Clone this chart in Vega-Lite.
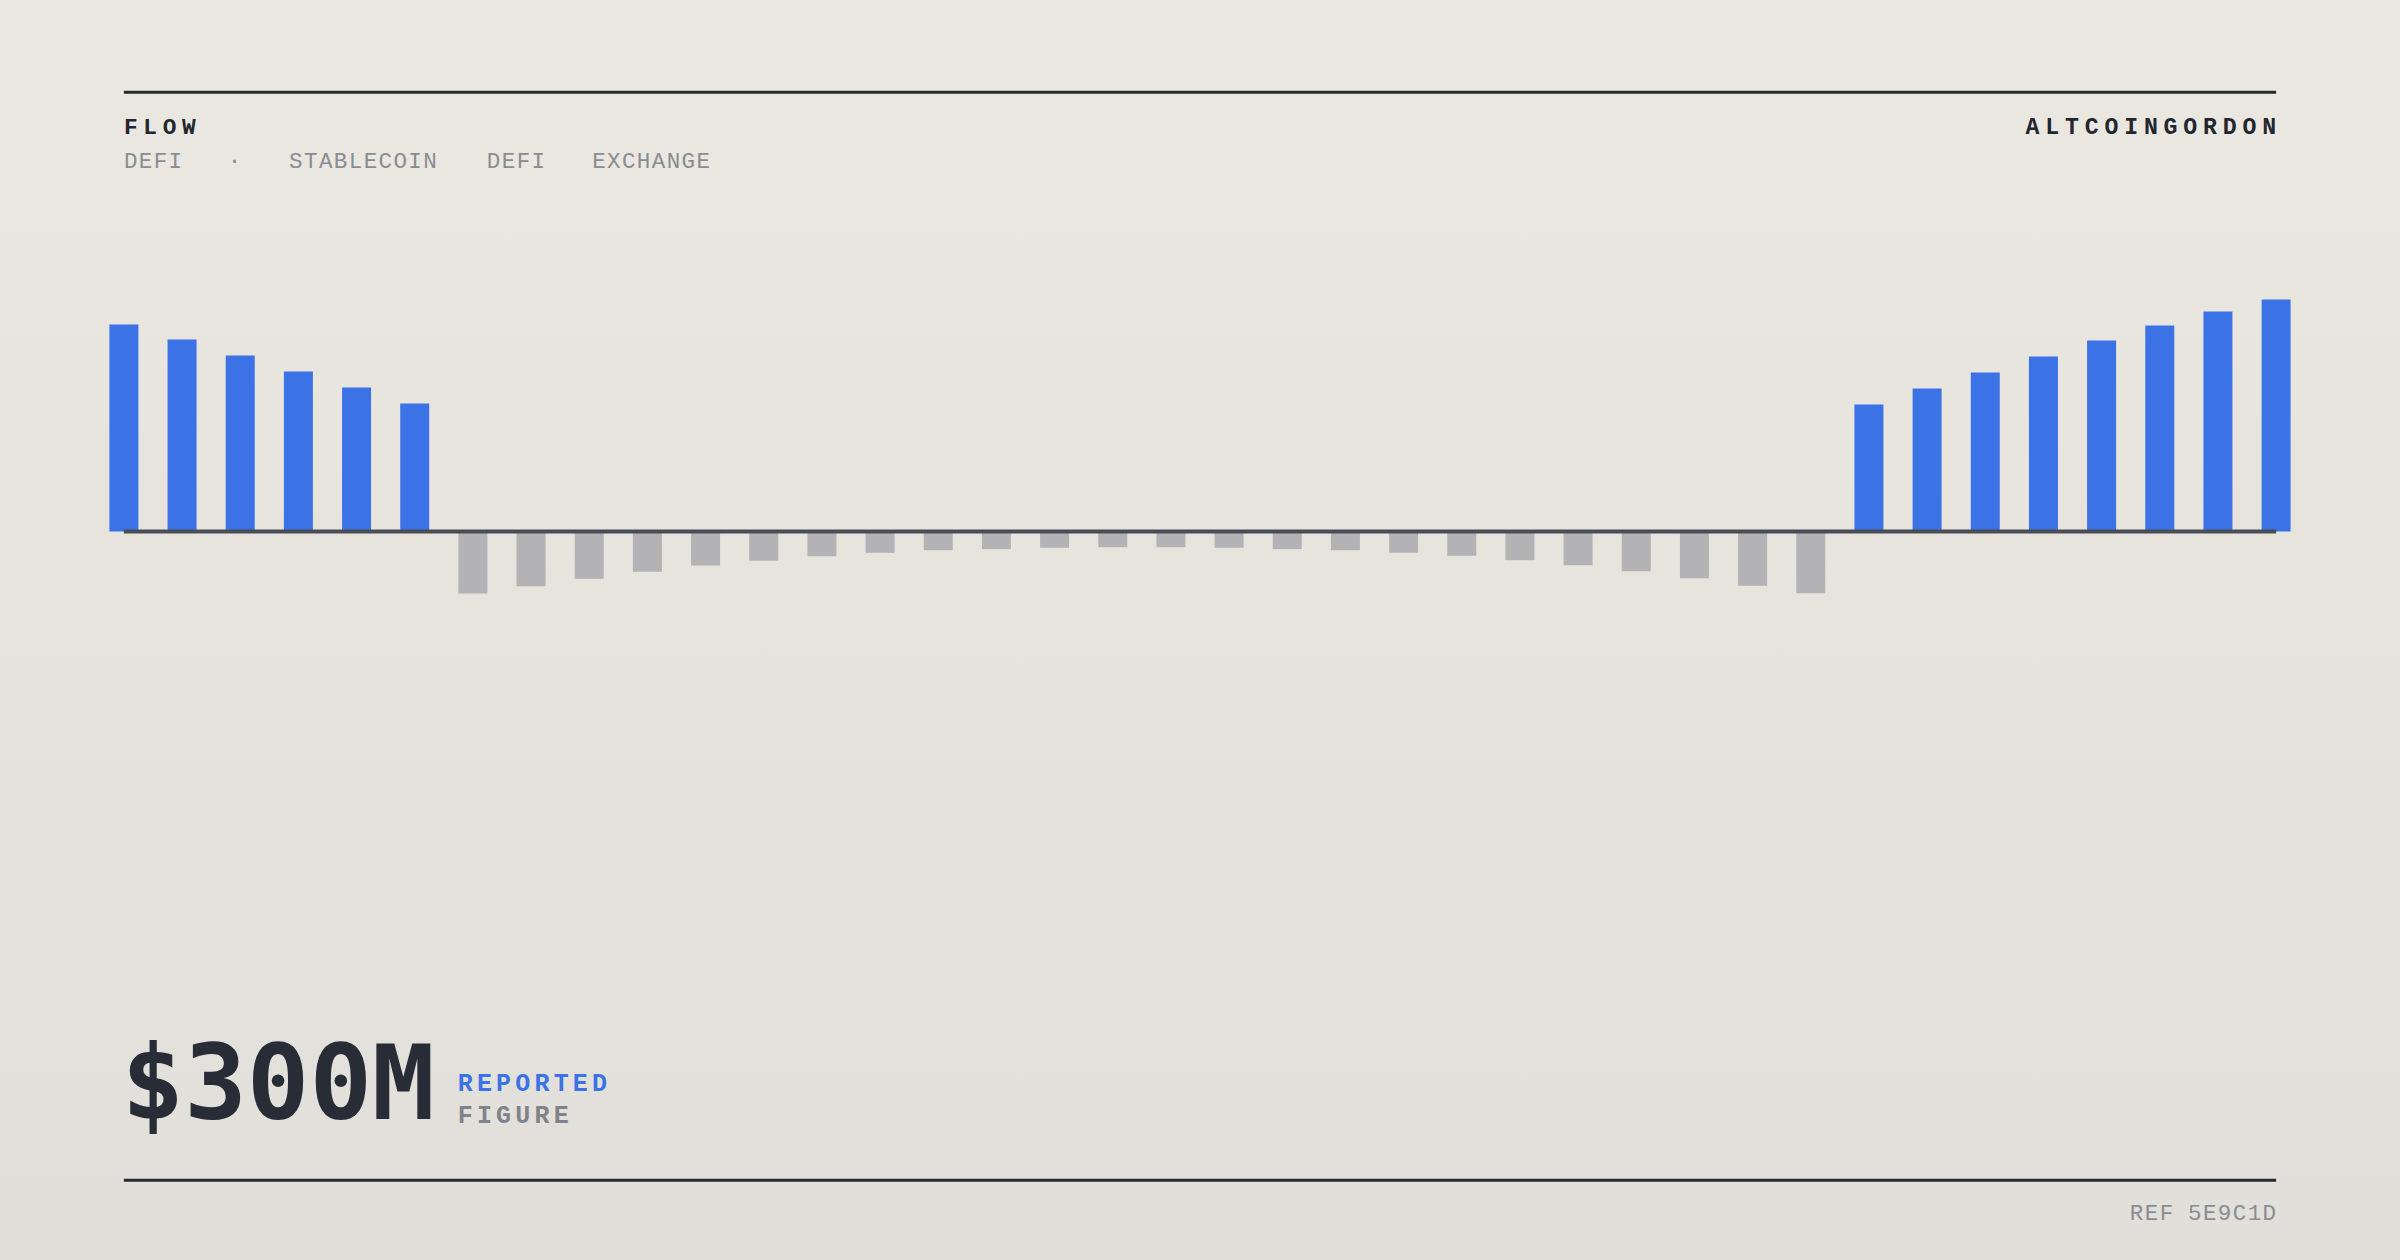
{
  "$schema": "https://vega.github.io/schema/vega-lite/v6.json",
  "width": 2400,
  "height": 1260,
  "autosize": {"type": "fit", "contains": "padding"},
  "padding": 0,
  "background": "#e6e3dd",
  "config": {"view": {"stroke": null}, "font": "DejaVu Sans Mono"},
  "datasets": {
    "flow": [
      {"i": 0, "v": 207}, {"i": 1, "v": 192}, {"i": 2, "v": 176}, {"i": 3, "v": 160},
      {"i": 4, "v": 144}, {"i": 5, "v": 128}, {"i": 6, "v": -62}, {"i": 7, "v": -54.7},
      {"i": 8, "v": -47.3}, {"i": 9, "v": -40.3}, {"i": 10, "v": -34}, {"i": 11, "v": -29.3},
      {"i": 12, "v": -24.7}, {"i": 13, "v": -21.3}, {"i": 14, "v": -18.7}, {"i": 15, "v": -17.7},
      {"i": 16, "v": -16.3}, {"i": 17, "v": -15.7}, {"i": 18, "v": -15.7}, {"i": 19, "v": -16.3},
      {"i": 20, "v": -17.7}, {"i": 21, "v": -18.7}, {"i": 22, "v": -21.3}, {"i": 23, "v": -24.3},
      {"i": 24, "v": -28.7}, {"i": 25, "v": -33.7}, {"i": 26, "v": -39.7}, {"i": 27, "v": -46.7},
      {"i": 28, "v": -54.3}, {"i": 29, "v": -61.7}, {"i": 30, "v": 127}, {"i": 31, "v": 143},
      {"i": 32, "v": 159}, {"i": 33, "v": 175}, {"i": 34, "v": 191}, {"i": 35, "v": 206},
      {"i": 36, "v": 220}, {"i": 37, "v": 232}
    ]
  },
  "data": {"name": "flow"},
  "layer": [
    {
      "data": {"values": [{"k": 1}]},
      "mark": {"type": "rect", "fill": {"gradient": "linear", "x1": 0, "y1": 0, "x2": 0, "y2": 1, "stops": [{"offset": 0, "color": "#ebe8e1"}, {"offset": 1, "color": "#e1dfd9"}]}},
      "encoding": {
        "x": {"datum": -2.13, "type": "quantitative", "scale": {"domain": [-2.13, 39.13], "nice": false, "zero": false, "padding": 0}, "axis": null},
        "x2": {"datum": 39.13},
        "y": {"datum": 531.5, "type": "quantitative", "scale": {"domain": [-728.5, 531.5], "nice": false, "zero": false, "padding": 0}, "axis": null},
        "y2": {"datum": -728.5}
      }
    },
    {
      "mark": {"type": "bar", "orient": "vertical", "width": 29},
      "encoding": {
        "x": {"field": "i", "type": "quantitative", "scale": {"domain": [-2.13, 39.13], "nice": false, "zero": false, "padding": 0}, "axis": null},
        "y": {"field": "v", "type": "quantitative", "scale": {"domain": [-728.5, 531.5], "nice": false, "zero": false, "padding": 0}, "axis": null},
        "y2": {"datum": 0},
        "color": {"condition": {"test": "datum.v > 0", "value": "#3b73e6"}, "value": "#b3b3b5"}
      }
    },
    {
      "data": {"values": [{"k": 1}]},
      "mark": {"type": "rule", "color": "#4a4d55", "strokeWidth": 4},
      "encoding": {
        "x": {"datum": 0, "type": "quantitative", "axis": null},
        "x2": {"datum": 37},
        "y": {"datum": 0, "type": "quantitative", "axis": null}
      }
    },
    {
      "data": {"values": [{"k": 1}]},
      "mark": {"type": "rule", "color": "#262a33", "strokeWidth": 3},
      "encoding": {
        "x": {"datum": 0, "type": "quantitative", "axis": null},
        "x2": {"datum": 37},
        "y": {"datum": 439.2, "type": "quantitative", "axis": null}
      }
    },
    {
      "data": {"values": [{"k": 1}]},
      "mark": {"type": "rule", "color": "#262a33", "strokeWidth": 3},
      "encoding": {
        "x": {"datum": 0, "type": "quantitative", "axis": null},
        "x2": {"datum": 37},
        "y": {"datum": -648.8, "type": "quantitative", "axis": null}
      }
    },
    {
      "data": {"values": [{"k": 1}]},
      "mark": {"type": "text", "text": "F\u2005L\u2005O\u2005W", "align": "left", "baseline": "alphabetic", "font": "Liberation Mono, DejaVu Sans", "fontSize": 22.8, "fontWeight": "bold", "color": "#22262e"},
      "encoding": {
        "x": {"datum": 0, "type": "quantitative", "axis": null},
        "y": {"datum": 397.2, "type": "quantitative", "axis": null}
      }
    },
    {
      "data": {"values": [{"k": 1}]},
      "mark": {"type": "text", "text": "A\u2005L\u2005T\u2005C\u2005O\u2005I\u2005N\u2005G\u2005O\u2005R\u2005D\u2005O\u2005N", "align": "right", "baseline": "alphabetic", "font": "Liberation Mono, DejaVu Sans", "fontSize": 23.2, "fontWeight": "bold", "color": "#22262e"},
      "encoding": {
        "x": {"datum": 37, "type": "quantitative", "axis": null},
        "y": {"datum": 397.2, "type": "quantitative", "axis": null}
      }
    },
    {
      "data": {"values": [{"k": 1}]},
      "mark": {"type": "text", "text": "D\u200AE\u200AF\u200AI", "align": "left", "baseline": "alphabetic", "font": "Liberation Mono, DejaVu Sans", "fontSize": 22.5, "color": "#8a8c93"},
      "encoding": {
        "x": {"datum": 0, "type": "quantitative", "axis": null},
        "y": {"datum": 363.2, "type": "quantitative", "axis": null}
      }
    },
    {
      "data": {"values": [{"k": 1}]},
      "mark": {"type": "text", "text": "·", "align": "center", "baseline": "alphabetic", "font": "Liberation Mono, DejaVu Sans", "fontSize": 22.5, "color": "#8a8c93"},
      "encoding": {
        "x": {"datum": 1.9, "type": "quantitative", "axis": null},
        "y": {"datum": 363.2, "type": "quantitative", "axis": null}
      }
    },
    {
      "data": {"values": [{"k": 1}]},
      "mark": {"type": "text", "text": "S\u200AT\u200AA\u200AB\u200AL\u200AE\u200AC\u200AO\u200AI\u200AN", "align": "left", "baseline": "alphabetic", "font": "Liberation Mono, DejaVu Sans", "fontSize": 22.5, "color": "#8a8c93"},
      "encoding": {
        "x": {"datum": 2.84, "type": "quantitative", "axis": null},
        "y": {"datum": 363.2, "type": "quantitative", "axis": null}
      }
    },
    {
      "data": {"values": [{"k": 1}]},
      "mark": {"type": "text", "text": "D\u200AE\u200AF\u200AI", "align": "left", "baseline": "alphabetic", "font": "Liberation Mono, DejaVu Sans", "fontSize": 22.5, "color": "#8a8c93"},
      "encoding": {
        "x": {"datum": 6.24, "type": "quantitative", "axis": null},
        "y": {"datum": 363.2, "type": "quantitative", "axis": null}
      }
    },
    {
      "data": {"values": [{"k": 1}]},
      "mark": {"type": "text", "text": "E\u200AX\u200AC\u200AH\u200AA\u200AN\u200AG\u200AE", "align": "left", "baseline": "alphabetic", "font": "Liberation Mono, DejaVu Sans", "fontSize": 22.5, "color": "#8a8c93"},
      "encoding": {
        "x": {"datum": 8.05, "type": "quantitative", "axis": null},
        "y": {"datum": 363.2, "type": "quantitative", "axis": null}
      }
    },
    {
      "data": {"values": [{"k": 1}]},
      "mark": {"type": "text", "text": "$300M", "align": "left", "baseline": "alphabetic", "font": "DejaVu Sans Mono", "fontSize": 104, "fontWeight": "bold", "color": "#282c36"},
      "encoding": {
        "x": {"datum": -0.04, "type": "quantitative", "axis": null},
        "y": {"datum": -587.5, "type": "quantitative", "axis": null}
      }
    },
    {
      "data": {"values": [{"k": 1}]},
      "mark": {"type": "text", "text": "R\u2006E\u2006P\u2006O\u2006R\u2006T\u2006E\u2006D", "align": "left", "baseline": "alphabetic", "font": "Liberation Mono, DejaVu Sans", "fontSize": 25, "fontWeight": "bold", "color": "#3b73e6"},
      "encoding": {
        "x": {"datum": 5.74, "type": "quantitative", "axis": null},
        "y": {"datum": -559.9, "type": "quantitative", "axis": null}
      }
    },
    {
      "data": {"values": [{"k": 1}]},
      "mark": {"type": "text", "text": "F\u2006I\u2006G\u2006U\u2006R\u2006E", "align": "left", "baseline": "alphabetic", "font": "Liberation Mono, DejaVu Sans", "fontSize": 25, "fontWeight": "bold", "color": "#80838b"},
      "encoding": {
        "x": {"datum": 5.74, "type": "quantitative", "axis": null},
        "y": {"datum": -591.5, "type": "quantitative", "axis": null}
      }
    },
    {
      "data": {"values": [{"k": 1}]},
      "mark": {"type": "text", "text": "R\u200AE\u200AF\u200A 5\u200AE\u200A9\u200AC\u200A1\u200AD", "align": "right", "baseline": "alphabetic", "font": "Liberation Mono, DejaVu Sans", "fontSize": 22.5, "color": "#8a8c93"},
      "encoding": {
        "x": {"datum": 37, "type": "quantitative", "axis": null},
        "y": {"datum": -688.5, "type": "quantitative", "axis": null}
      }
    }
  ]
}
